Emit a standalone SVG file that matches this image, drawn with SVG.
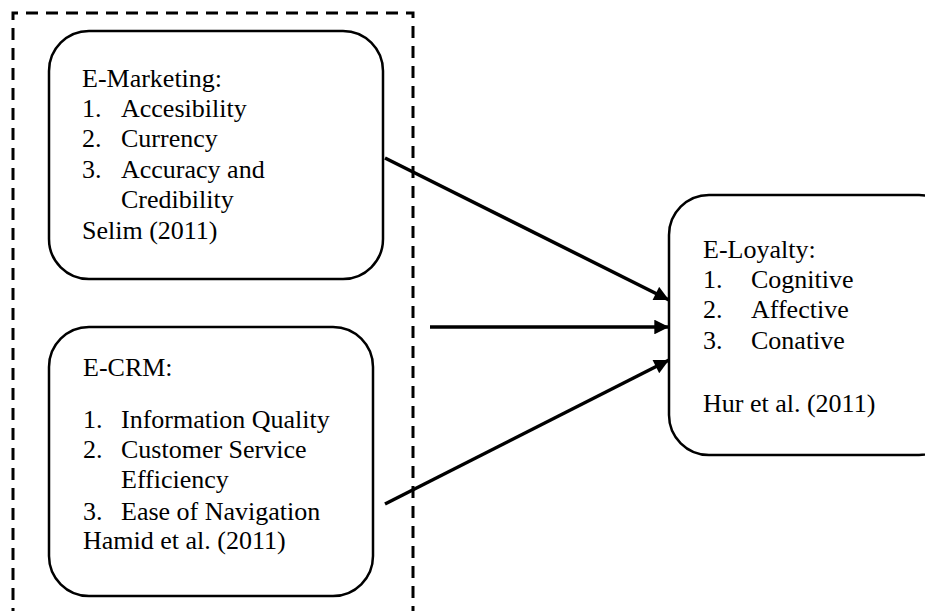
<svg xmlns="http://www.w3.org/2000/svg" width="925" height="611" viewBox="0 0 925 611">
<style>
.box{fill:#fff;stroke:#000;stroke-width:2.5}
text{font-family:'Liberation Serif','Times New Roman',Times,serif;font-size:26px;fill:#000}
.c{stroke:#000;stroke-width:3.5;fill:none}
.dash{stroke:#000;stroke-width:3;fill:none;stroke-dasharray:12 8}
</style>
<defs>
<marker id="ah" viewBox="0 0 10 10" refX="10" refY="5" markerWidth="5" markerHeight="4.2" markerUnits="strokeWidth" orient="auto">
<path d="M0,0 L10,5 L0,10 z" fill="#000"/>
</marker>
</defs>
<path class="dash" d="M13,620 V13 H413 V620"/>
<g id="emarketing" font-family="Liberation Serif, serif">
<rect class="box" x="49" y="31" width="334" height="248" rx="40" ry="40"/>
<text x="82" y="87">E-Marketing:</text>
<text x="82" y="117">1.</text><text x="121" y="117">Accesibility</text>
<text x="82" y="147">2.</text><text x="121" y="147">Currency</text>
<text x="82" y="178">3.</text><text x="121" y="178">Accuracy and</text>
<text x="121" y="208">Credibility</text>
<text x="82" y="239">Selim (2011)</text>
</g>
<g id="ecrm" font-family="Liberation Serif, serif">
<rect class="box" x="49" y="327" width="324" height="269" rx="40" ry="40"/>
<text x="83" y="376">E-CRM:</text>
<text x="83" y="428">1.</text><text x="121" y="428">Information Quality</text>
<text x="83" y="458">2.</text><text x="121" y="458">Customer Service</text>
<text x="121" y="488">Efficiency</text>
<text x="83" y="520">3.</text><text x="121" y="520">Ease of Navigation</text>
<text x="83" y="549">Hamid et al. (2011)</text>
</g>
<g id="eloyalty" font-family="Liberation Serif, serif">
<rect class="box" x="669" y="195" width="290" height="260" rx="40" ry="40"/>
<text x="703" y="258">E-Loyalty:</text>
<text x="703" y="288">1.</text><text x="751" y="288">Cognitive</text>
<text x="703" y="318">2.</text><text x="751" y="318">Affective</text>
<text x="703" y="349">3.</text><text x="751" y="349">Conative</text>
<text x="703" y="412">Hur et al. (2011)</text>
</g>
<g id="connectors">
<line class="c" x1="385" y1="158" x2="669" y2="300" marker-end="url(#ah)"/>
<line class="c" x1="430" y1="327" x2="669" y2="327" marker-end="url(#ah)"/>
<line class="c" x1="385" y1="504" x2="669" y2="360" marker-end="url(#ah)"/>
</g>
</svg>
